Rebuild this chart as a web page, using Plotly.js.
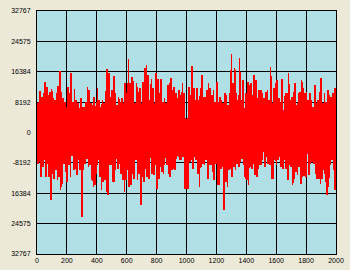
<!DOCTYPE html>
<html>
<head>
<meta charset="utf-8">
<script src="https://cdn.plot.ly/plotly-3.0.1.min.js"></script>
<style>
html,body{margin:0;padding:0;background:#ECE9D8;}
#chart{width:350px;height:270px;}
#chart .scatterlayer path.js-line{shape-rendering:crispEdges;}
</style>
</head>
<body>
<div id="chart"></div>
<script>
// Per-column envelope of the signal (upper peaks and lower troughs)
const peaks = [
  7830, 8280, 11250, 9630, 10710, 13680, 12150, 10080, 10980, 11700,
  9180, 8730, 10530, 12510, 16650, 10980, 9180, 8280, 6930, 12330,
  10530, 16110, 8280, 11610, 8730, 7830, 6480, 9180, 6930, 6930,
  8280, 12330, 11430, 7830, 7380, 9630, 7110, 11880, 8730, 6930,
  8730, 7830, 11250, 17010, 15930, 9630,
  11430, 15210, 10530, 7380, 9630, 8280, 9180, 7830, 13230, 10530,
  19800, 13230, 15030, 13950, 7830, 13230, 10980, 11880, 7830, 13680,
  17280, 18180, 15480, 8730, 14310, 11880, 7830, 15930, 14400, 10530,
  14400, 8280, 9180, 7830, 12780, 13230, 14580, 11430, 12330, 10530,
  9180, 11430, 10080, 13230, 10530, 3780,
  3780, 12330, 10080, 17910, 11880, 8730, 11880, 8730, 11880, 15480,
  9630, 9630, 11430, 13230, 11880, 10080, 11430, 8280, 13680, 8280,
  9630, 8730, 7830, 10530, 10080, 7380, 10530, 21150, 13230, 17280,
  10530, 8730, 19980, 8730, 14130, 6480, 10530, 13680, 12780, 13230,
  10080, 15480, 14130, 9180, 11430, 11430,
  10530, 9180, 10980, 11430, 8730, 17730, 7830, 11880, 13230, 14130,
  9180, 8280, 14310, 6030, 10530, 10530, 16110, 8730, 9630, 10980,
  13230, 7380, 10530, 10980, 14130, 11880, 10530, 10980, 8730, 10530,
  8730, 6930, 12780, 7830, 8730, 10980, 14580, 7830, 10530, 8280,
  11430, 10080, 9630, 10530, 11880, 11880
];
const troughs = [
  -8370, -7920, -11970, -9270, -7470, -11970, -8370, -11970, -18270, -11070,
  -12420, -10170, -12870, -11970, -15570, -13770, -8370, -10620, -13320, -8820,
  -11970, -6320, -10170, -9720, -11520, -7470, -10170, -22770, -10170, -8370,
  -7020, -9270, -8820, -12870, -14670, -14220, -11070, -7470, -11970, -15570,
  -13320, -12870, -16020, -16920, -8820, -8820,
  -13320, -13320, -7020, -9720, -8370, -11070, -12870, -16020, -12870, -10170,
  -14670, -14220, -11070, -12420, -7470, -12870, -11070, -19620, -11970, -13320,
  -9720, -11970, -12420, -6770, -11070, -11520, -8820, -15120, -12420, -9270,
  -10620, -11070, -6770, -8820, -11070, -11970, -10170, -9720, -10170, -7020,
  -6570, -7470, -7470, -6570, -15120, -15120,
  -15120, -7920, -7470, -9720, -6570, -7470, -11070, -14670, -9270, -8370,
  -8820, -7470, -12420, -8820, -8820, -10620, -12870, -8370, -14220, -14220,
  -9720, -9270, -20970, -13320, -14670, -10170, -9720, -11970, -9270, -10170,
  -8370, -9270, -7920, -7020, -8820, -12420, -12870, -14220, -9270, -9720,
  -8370, -11520, -11970, -9720, -8820, -8820,
  -5220, -9270, -6570, -8370, -8820, -12420, -12420, -7470, -8820, -7470,
  -6570, -9270, -9720, -7470, -9720, -12870, -8820, -9270, -14220, -12420,
  -10620, -11520, -9270, -13770, -11970, -11790, -11970, -5770, -11520, -8370,
  -7920, -8370, -11070, -12420, -12420, -13770, -12420, -10170, -13320, -16920,
  -14670, -8820, -7470, -10170, -15570, -15570
];
const yTickVals = [32767, 24575, 16384, 8192, 0, -8192, -16384, -24575, -32767];
const yTickText = ["32767", "24575", "16384", "8192", "0", "-8192", "16384", "24575", "32767"];
const xTickVals = [0, 200, 400, 600, 800, 1000, 1200, 1400, 1600, 1800, 2000];

const n = peaks.length;
const step = 2000 / (n - 1);
const xs = [], ys = [];
for (let i = 0; i < n; i++) {
  xs.push(i * step); ys.push(peaks[i]);
  xs.push(i * step + step / 2); ys.push(troughs[i]);
}

const font = {family: "Liberation Sans, Arial, sans-serif", size: 7, color: "#000"};
Plotly.newPlot("chart", [{
  x: xs, y: ys, type: "scatter", mode: "lines",
  line: {color: "#FF0000", width: 1.6}, hoverinfo: "skip"
}], {
  width: 350, height: 270,
  paper_bgcolor: "#ECE9D8", plot_bgcolor: "#B0E0E6",
  margin: {l: 37, r: 14, t: 11, b: 16, pad: 0},
  showlegend: false,
  font: font,
  xaxis: {
    range: [0, 2000], tickvals: xTickVals, ticktext: xTickVals.map(String),
    showgrid: true, gridcolor: "#000", gridwidth: 1,
    zeroline: false, showline: true, linecolor: "#000", linewidth: 1, mirror: true,
    ticks: "", tickfont: font, ticklabelstandoff: 0
  },
  yaxis: {
    range: [-32767, 32767], tickvals: yTickVals, ticktext: yTickText,
    showgrid: true, gridcolor: "#000", gridwidth: 1,
    zeroline: true, zerolinecolor: "#000", zerolinewidth: 1,
    showline: true, linecolor: "#000", linewidth: 1, mirror: true,
    ticks: "", tickfont: font, ticklabelstandoff: 4
  }
}, {staticPlot: true, displayModeBar: false});
</script>
</body>
</html>
